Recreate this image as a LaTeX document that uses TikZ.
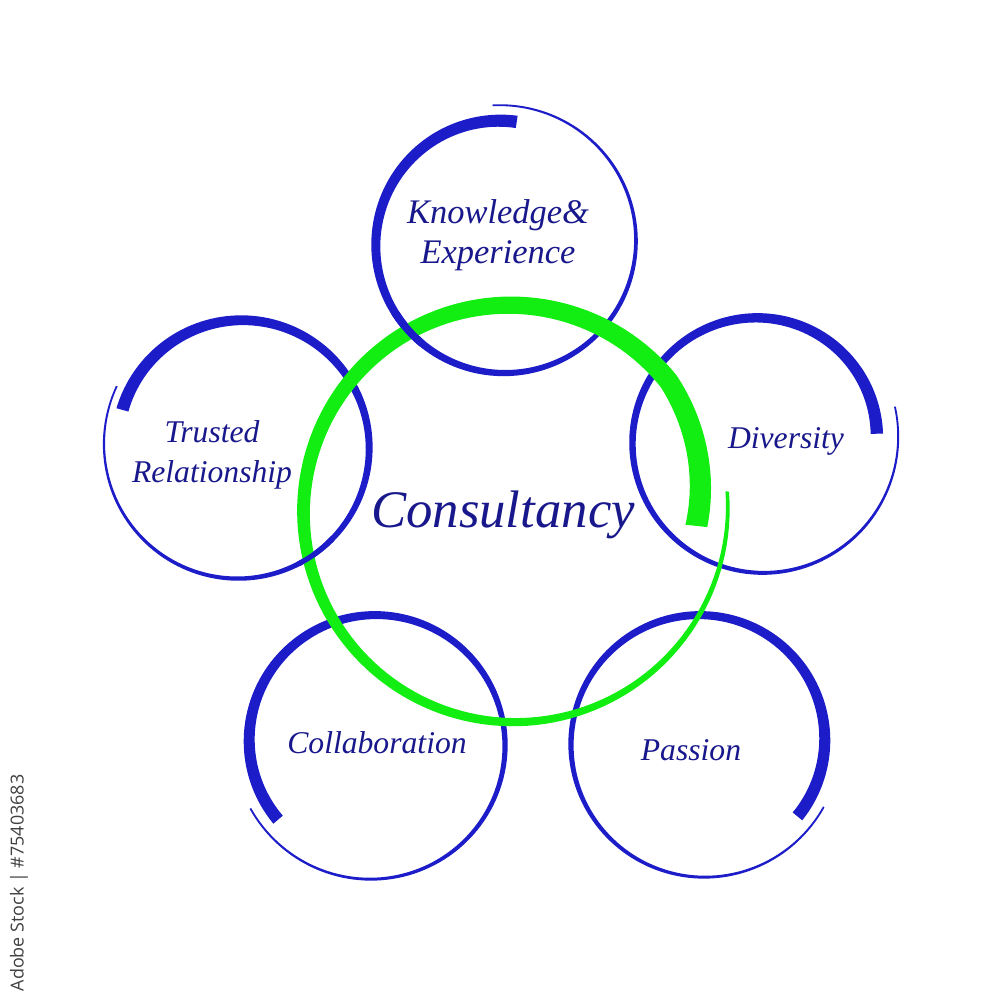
\documentclass[tikz,border=0pt]{standalone}
\usepackage{fontspec}
\setmainfont{Liberation Serif}
\newfontfamily\stockfont{Open Sans}
\definecolor{ringblue}{RGB}{28,28,200}
\definecolor{textblue}{RGB}{24,24,140}
\definecolor{ringgreen}{RGB}{18,238,18}

% brush ring: colour, centre x, centre y, start angle, sweep, radius(\x), width(\x)
\newcommand{\brushring}[7]{%
  \fill[#1] plot[domain=0:1,samples=160]
      ({#2+((#6)+0.5*(#7))*cos(#4+(#5)*\x)},{#3-((#6)+0.5*(#7))*sin(#4+(#5)*\x)})
    -- plot[domain=1:0,samples=160]
      ({#2+((#6)-0.5*(#7))*cos(#4+(#5)*\x)},{#3-((#6)-0.5*(#7))*sin(#4+(#5)*\x)})
    -- cycle;}
\newcommand{\bluewidth}{1.8+10.6*(1-\x)^1.25}

\begin{document}
\begin{tikzpicture}[x=0.01cm,y=-0.01cm,
  label/.style={text=textblue,font=\itshape\fontsize{9}{11.3}\selectfont,align=center,inner sep=0pt},
  hub/.style={text=textblue,font=\itshape\fontsize{15}{18}\selectfont,inner sep=0pt}]
  \useasboundingbox[fill=white] (0,0) rectangle (1000,1000);

  % blue rings
  \brushring{ringblue}{502}{243}{83}{371}{122+16*\x}{\bluewidth}
  \brushring{ringblue}{240}{446}{163}{-369}{123+14*\x}{\bluewidth}
  \brushring{ringblue}{760}{440}{3}{371}{117+22*\x}{\bluewidth}
  \brushring{ringblue}{373}{743}{219}{-371}{122+17*\x}{\bluewidth}
  \brushring{ringblue}{702}{742}{-38}{370}{121+17*\x}{\bluewidth}

  % green ring
  \brushring{ringgreen}{512}{510}{-5}{370}{201+15*\x-16*max(0,1-\x/0.12)}{22-18.5*\x}

  % blue over green where they cross
  \begin{scope}
    \clip (403,333) circle (22);
    \brushring{ringblue}{502}{243}{83}{371}{122+16*\x}{\bluewidth}
  \end{scope}
  \begin{scope}
    \clip (313,548) circle (22);
    \brushring{ringblue}{240}{446}{163}{-369}{123+14*\x}{\bluewidth}
  \end{scope}

  % texts
  \node[hub,anchor=base] (cons) at (503,527) {Consultancy};
  \node[label,font=\itshape\fontsize{9.8}{11.3}\selectfont] (know) at (498,235) {Knowledge\&\\Experience};
  \node[label] (trust) at (212,455) {Trusted\\Relationship};
  \node[label,anchor=base] (div) at (786,448) {Diversity};
  \node[label,anchor=base] (coll) at (377,753) {Collaboration};
  \node[label,anchor=base] (pass) at (691,760) {Passion};

  \node[rotate=90,text=black!75,font=\stockfont\fontsize{5.1}{6}\selectfont,inner sep=0pt] (stock) at (19,883) {Adobe Stock | \#75403683};
\end{tikzpicture}
\end{document}
